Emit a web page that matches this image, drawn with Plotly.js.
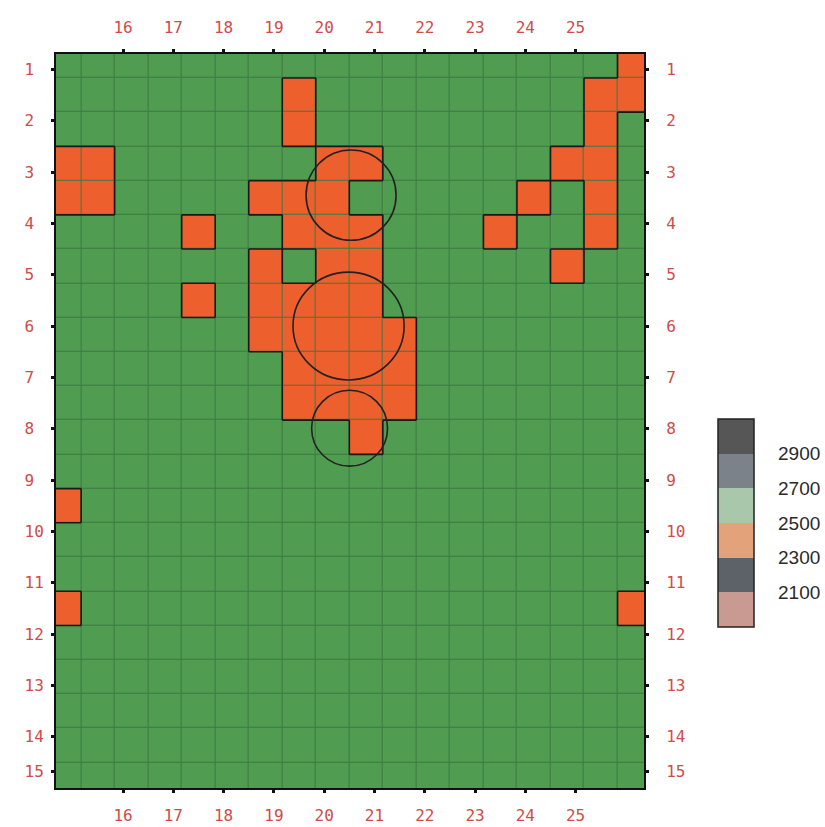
<!DOCTYPE html>
<html>
<head>
<meta charset="utf-8">
<script src="https://cdn.plot.ly/plotly-3.0.1.min.js"></script>
<style>
  html, body { margin: 0; padding: 0; background: #ffffff; }
  #chart { width: 825px; height: 827px; }
</style>
</head>
<body>
<div id="chart"></div>
<script>
// ---- data ----
const xTickVals = [16, 17, 18, 19, 20, 21, 22, 23, 24, 25];
const xTickLabels = ['16', '17', '18', '19', '20', '21', '22', '23', '24', '25'];
const yTickVals = [1, 2, 3, 4, 5, 6, 7, 8, 9, 10, 11, 12, 13, 14, 14.68];
const yTickLabels = ['1', '2', '3', '4', '5', '6', '7', '8', '9', '10', '11', '12', '13', '14', '15'];

// grid values (22 rows x 18 columns); ~2600 = green band, ~2400 = orange band
const zValues = [
  [2600,2600,2600,2600,2600,2600,2600,2600,2600,2600,2600,2600,2600,2600,2600,2600,2600,2400],
  [2600,2600,2600,2600,2600,2600,2600,2400,2600,2600,2600,2600,2600,2600,2600,2600,2400,2400],
  [2600,2600,2600,2600,2600,2600,2600,2400,2600,2600,2600,2600,2600,2600,2600,2600,2400,2600],
  [2400,2400,2600,2600,2600,2600,2600,2600,2400,2400,2600,2600,2600,2600,2600,2400,2400,2600],
  [2400,2400,2600,2600,2600,2600,2400,2400,2400,2600,2600,2600,2600,2600,2400,2600,2400,2600],
  [2600,2600,2600,2600,2400,2600,2600,2400,2400,2400,2600,2600,2600,2400,2600,2600,2400,2600],
  [2600,2600,2600,2600,2600,2600,2400,2600,2400,2400,2600,2600,2600,2600,2600,2400,2600,2600],
  [2600,2600,2600,2600,2400,2600,2400,2400,2400,2400,2600,2600,2600,2600,2600,2600,2600,2600],
  [2600,2600,2600,2600,2600,2600,2400,2400,2400,2400,2400,2600,2600,2600,2600,2600,2600,2600],
  [2600,2600,2600,2600,2600,2600,2600,2400,2400,2400,2400,2600,2600,2600,2600,2600,2600,2600],
  [2600,2600,2600,2600,2600,2600,2600,2400,2400,2400,2400,2600,2600,2600,2600,2600,2600,2600],
  [2600,2600,2600,2600,2600,2600,2600,2600,2600,2400,2600,2600,2600,2600,2600,2600,2600,2600],
  [2600,2600,2600,2600,2600,2600,2600,2600,2600,2600,2600,2600,2600,2600,2600,2600,2600,2600],
  [2400,2600,2600,2600,2600,2600,2600,2600,2600,2600,2600,2600,2600,2600,2600,2600,2600,2600],
  [2600,2600,2600,2600,2600,2600,2600,2600,2600,2600,2600,2600,2600,2600,2600,2600,2600,2600],
  [2600,2600,2600,2600,2600,2600,2600,2600,2600,2600,2600,2600,2600,2600,2600,2600,2600,2600],
  [2400,2600,2600,2600,2600,2600,2600,2600,2600,2600,2600,2600,2600,2600,2600,2600,2600,2400],
  [2600,2600,2600,2600,2600,2600,2600,2600,2600,2600,2600,2600,2600,2600,2600,2600,2600,2600],
  [2600,2600,2600,2600,2600,2600,2600,2600,2600,2600,2600,2600,2600,2600,2600,2600,2600,2600],
  [2600,2600,2600,2600,2600,2600,2600,2600,2600,2600,2600,2600,2600,2600,2600,2600,2600,2600],
  [2600,2600,2600,2600,2600,2600,2600,2600,2600,2600,2600,2600,2600,2600,2600,2600,2600,2600],
  [2600,2600,2600,2600,2600,2600,2600,2600,2600,2600,2600,2600,2600,2600,2600,2600,2600,2600]
];

// marked circles (data units: x0, x1, y0, y1)
const circleX0 = [19.64, 19.38, 19.75];
const circleX1 = [21.43, 21.59, 21.26];
const circleY0 = [2.57, 4.95, 7.25];
const circleY1 = [4.33, 7.05, 8.73];

// legend bands
const legendTicks = [2100, 2300, 2500, 2700, 2900];

// ---- styling / geometry ----
const cellX0 = 14.8333, cellDX = 0.6667, cellY0 = 0.8333, cellDY = 0.6667;
const green = '#509c50', orange = '#ee5f2e';
const threshold = 2500;
const tickRed = '#cf4c4a';
const monoFont = {family: 'DejaVu Sans Mono, Liberation Mono, monospace', size: 16, color: tickRed};

const legendColors = ['#c99a92', '#5d6268', '#e3a27a', '#a9c7aa', '#7b8289', '#565656'];
const legendScale = [];
legendColors.forEach((c, i) => { legendScale.push([i / 6, c]); legendScale.push([(i + 1) / 6, c]); });

// outlines around orange regions computed from the grid
const shapes = [];
const nR = zValues.length, nC = zValues[0].length;
const isLow = (r, c) => zValues[r][c] < threshold;
for (let r = 0; r < nR; r++) {
  for (let c = 0; c < nC; c++) {
    if (!isLow(r, c)) continue;
    const xl = cellX0 + (c - 0.5) * cellDX, xr = cellX0 + (c + 0.5) * cellDX;
    const yt = cellY0 + (r - 0.5) * cellDY, yb = cellY0 + (r + 0.5) * cellDY;
    const seg = (x0, y0, x1, y1) => shapes.push({type: 'line', xref: 'x', yref: 'y', x0, y0, x1, y1,
      line: {color: '#1a1a1a', width: 1.6}, layer: 'above'});
    if (r > 0 && !isLow(r - 1, c)) seg(xl, yt, xr, yt);
    if (r < nR - 1 && !isLow(r + 1, c)) seg(xl, yb, xr, yb);
    if (c > 0 && !isLow(r, c - 1)) seg(xl, yt, xl, yb);
    if (c < nC - 1 && !isLow(r, c + 1)) seg(xr, yt, xr, yb);
  }
}
for (let i = 0; i < circleX0.length; i++) {
  shapes.push({type: 'circle', xref: 'x', yref: 'y', x0: circleX0[i], x1: circleX1[i],
    y0: circleY0[i], y1: circleY1[i], line: {color: '#222222', width: 1.6}, layer: 'above'});
}

const heat = {
  type: 'heatmap',
  z: zValues,
  x0: cellX0, dx: cellDX, y0: cellY0, dy: cellDY,
  zmin: 2300, zmax: 2700,
  colorscale: [[0, orange], [0.5, orange], [0.5, green], [1, green]],
  showscale: false,
  xgap: 1, ygap: 1,
  hoverinfo: 'skip'
};

const legendTrace = {
  type: 'scatter', mode: 'markers',
  x: [null], y: [null], xaxis: 'x2', yaxis: 'y2',
  hoverinfo: 'skip', showlegend: false,
  marker: {
    color: [2500], cmin: 1900, cmax: 3100, colorscale: legendScale, showscale: true,
    colorbar: {
      x: 1.126, xanchor: 'left', xpad: 0,
      y: 0.361, yanchor: 'middle', ypad: 0,
      len: 208, lenmode: 'pixels',
      thickness: 36, thicknessmode: 'pixels',
      outlinecolor: '#222222', outlinewidth: 1.5,
      tickvals: legendTicks, ticktext: legendTicks.map(String),
      ticks: 'outside', ticklen: 20, tickcolor: 'rgba(0,0,0,0)',
      tickfont: {family: 'Liberation Sans, Arial, sans-serif', size: 19, color: '#2a2a2a'}
    }
  }
};

const axisCommon = {
  showgrid: false, zeroline: false,
  showline: true, linecolor: '#111111', linewidth: 2,
  ticks: 'outside', ticklen: 3, tickwidth: 3, tickcolor: '#111111',
  tickfont: monoFont
};

const layout = {
  width: 825, height: 827,
  margin: {l: 56, r: 181, t: 54, b: 39, pad: 0, autoexpand: false},
  paper_bgcolor: '#ffffff',
  plot_bgcolor: '#3b7a42',
  showlegend: false,
  xaxis: Object.assign({}, axisCommon, {range: [14.667, 26.36], tickvals: xTickVals, ticktext: xTickLabels,
    side: 'bottom', ticklabelstandoff: 9}),
  xaxis2: Object.assign({}, axisCommon, {range: [14.667, 26.36], tickvals: xTickVals, ticktext: xTickLabels,
    side: 'top', overlaying: 'x', anchor: 'y2', ticklabelstandoff: 10}),
  yaxis: Object.assign({}, axisCommon, {range: [15.0, 0.7], tickvals: yTickVals,
    ticktext: yTickLabels.map(t => t.length < 2 ? t + '\u00a0' : t), side: 'left', ticklabelstandoff: 4}),
  yaxis2: Object.assign({}, axisCommon, {range: [15.0, 0.7], tickvals: yTickVals, ticktext: yTickLabels,
    side: 'right', overlaying: 'y', anchor: 'x2', ticklabelstandoff: 14}),
  shapes: shapes
};

Plotly.newPlot('chart', [heat, legendTrace], layout, {displayModeBar: false, staticPlot: true});
</script>
</body>
</html>
